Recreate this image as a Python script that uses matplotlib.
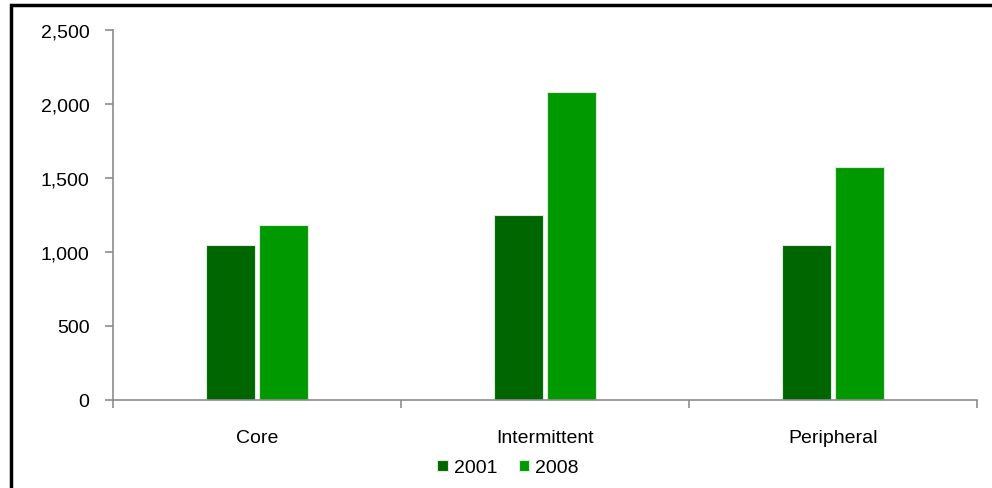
import matplotlib
matplotlib.use("Agg")
import matplotlib.pyplot as plt
from matplotlib.lines import Line2D
import numpy as np

categories = ["Core", "Intermittent", "Peripheral"]
series = ["2001", "2008"]
values_2001 = [1050, 1250, 1045]
values_2008 = [1180, 2080, 1575]
yticks = [0, 500, 1000, 1500, 2000, 2500]

plt.rcParams["font.family"] = ["Liberation Sans", "DejaVu Sans"]

fig = plt.figure(figsize=(9.92, 4.89), dpi=100)
ax = fig.add_axes([113 / 992, 1 - 401 / 489, (977 - 113) / 992, (401 - 31) / 489])

x = np.arange(len(categories))
w = 0.167
b1 = ax.bar(x - 0.092, values_2001, w, color="#006600", edgecolor="#d8ecd8", linewidth=0.8, label=series[0])
b2 = ax.bar(x + 0.092, values_2008, w, color="#009900", edgecolor="#d8ecd8", linewidth=0.8, label=series[1])

ax.set_xlim(-0.5, 2.5)
ax.set_ylim(0, 2500)
ax.set_yticks(yticks)
ax.set_yticklabels([f"{v:,}" for v in yticks])

# category boundaries get the tick marks, centres get the labels
ax.set_xticks([-0.5, 0.5, 1.5, 2.5])
ax.set_xticklabels([])
ax.set_xticks(x, minor=True)
ax.set_xticklabels(categories, minor=True)

for s in ["top", "right"]:
    ax.spines[s].set_visible(False)
for s in ["left", "bottom"]:
    ax.spines[s].set_color("#8c8c8c")
    ax.spines[s].set_linewidth(1.2)

ax.tick_params(axis="y", which="major", length=6, width=1.2, color="#8c8c8c",
               labelsize=14, pad=11)
ax.tick_params(axis="x", which="major", length=6, width=1.2, color="#8c8c8c")
ax.tick_params(axis="x", which="minor", length=0, labelsize=14, pad=21)

fig.legend(handles=[b1, b2], labels=series, loc="center", ncol=2,
           bbox_to_anchor=(508 / 992, 1 - 469 / 489), frameon=False, fontsize=14,
           handlelength=0.55, handleheight=0.55, handletextpad=0.3, columnspacing=1.1,
           borderpad=0)

# outer frame (left and top edges)
fig.add_artist(Line2D([11 / 992, 11 / 992, 1.01], [-0.01, 1 - 6 / 489, 1 - 6 / 489],
                      transform=fig.transFigure, color="black", linewidth=2.5,
                      solid_joinstyle="miter"))

fig.savefig("out.png", dpi=100)
